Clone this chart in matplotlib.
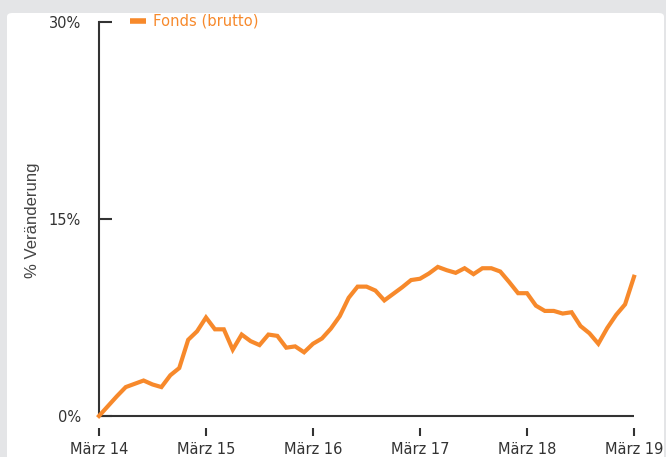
import matplotlib
matplotlib.use("Agg")
import matplotlib.pyplot as plt
from matplotlib.patches import FancyBboxPatch
from matplotlib.lines import Line2D

# monthly index, March 2014 .. March 2019
months = list(range(61))
fonds = [0.0, 0.75, 1.5, 2.2, 2.45, 2.7, 2.4, 2.2, 3.1, 3.65,
         5.8, 6.45, 7.5, 6.6, 6.6, 5.05, 6.2, 5.7, 5.4, 6.2,
         6.1, 5.2, 5.3, 4.85, 5.5, 5.9, 6.65, 7.6, 9.0, 9.85,
         9.85, 9.55, 8.8, 9.3, 9.8, 10.35, 10.45, 10.85, 11.35, 11.1,
         10.9, 11.25, 10.8, 11.25, 11.25, 11.0, 10.2, 9.35, 9.35, 8.4,
         8.0, 8.0, 7.8, 7.9, 6.85, 6.3, 5.5, 6.7, 7.7, 8.5,
         10.6]
xtick_pos = [0, 12, 24, 36, 48, 60]
xtick_labels = ["März 14", "März 15", "März 16", "März 17", "März 18", "März 19"]
ytick_pos = [0, 15, 30]
ytick_labels = ["0%", "15%", "30%"]
series_name = "Fonds (brutto)"

ORANGE = "#f7892b"
DARK = "#333333"

fig = plt.figure(figsize=(6.66, 4.57), dpi=100)
fig.patch.set_facecolor("#e4e5e7")
panel = FancyBboxPatch((7 / 666, -0.05), (664 - 7) / 666, 0.05 + 1 - 13 / 457,
                       boxstyle="round,pad=0,rounding_size=0.008",
                       transform=fig.transFigure, facecolor="white",
                       edgecolor="none", zorder=-5)
fig.patches.append(panel)

ax = fig.add_axes([99 / 666, 1 - 427.8 / 457, (634 - 99) / 666, (427.8 - 22) / 457])
ax.set_zorder(1)
ax.set_facecolor("none")
ax.plot(months, fonds, color=ORANGE, lw=3.0, solid_joinstyle="miter", zorder=3, clip_on=False)
ax.axhline(0, color=DARK, lw=1.5, zorder=2)

ax.set_xlim(0, 60)
ax.set_ylim(-0.9, 30)
for s in ["top", "right", "bottom"]:
    ax.spines[s].set_visible(False)
ax.spines["left"].set_color(DARK)
ax.spines["left"].set_linewidth(1.5)
ax.spines["left"].set_bounds(0, 30)

ax.set_yticks(ytick_pos)
ax.set_yticklabels(ytick_labels)
ax.tick_params(axis="y", direction="in", length=9, width=1.5, color=DARK,
               pad=13, labelsize=10.5, labelcolor=DARK)
ax.set_xticks(xtick_pos)
ax.set_xticklabels(xtick_labels)
ax.tick_params(axis="x", direction="out", length=6, width=1.5, color=DARK,
               pad=4, labelsize=10.5, labelcolor=DARK)

ax.set_ylabel("% Veränderung", fontsize=12, color="#444444", family="Liberation Sans")
ax.yaxis.set_label_coords(-0.111, 0.512)

handle = Line2D([], [], color=ORANGE, lw=4, solid_capstyle="butt")
leg = ax.legend([handle], [series_name], loc="upper left",
                bbox_to_anchor=(25 / 535, 1.035), frameon=False,
                handlelength=1.1, handletextpad=0.5, fontsize=10.6,
                borderaxespad=0)
for t in leg.get_texts():
    t.set_color(ORANGE)

fig.savefig("out.png", dpi=100, facecolor=fig.get_facecolor())
